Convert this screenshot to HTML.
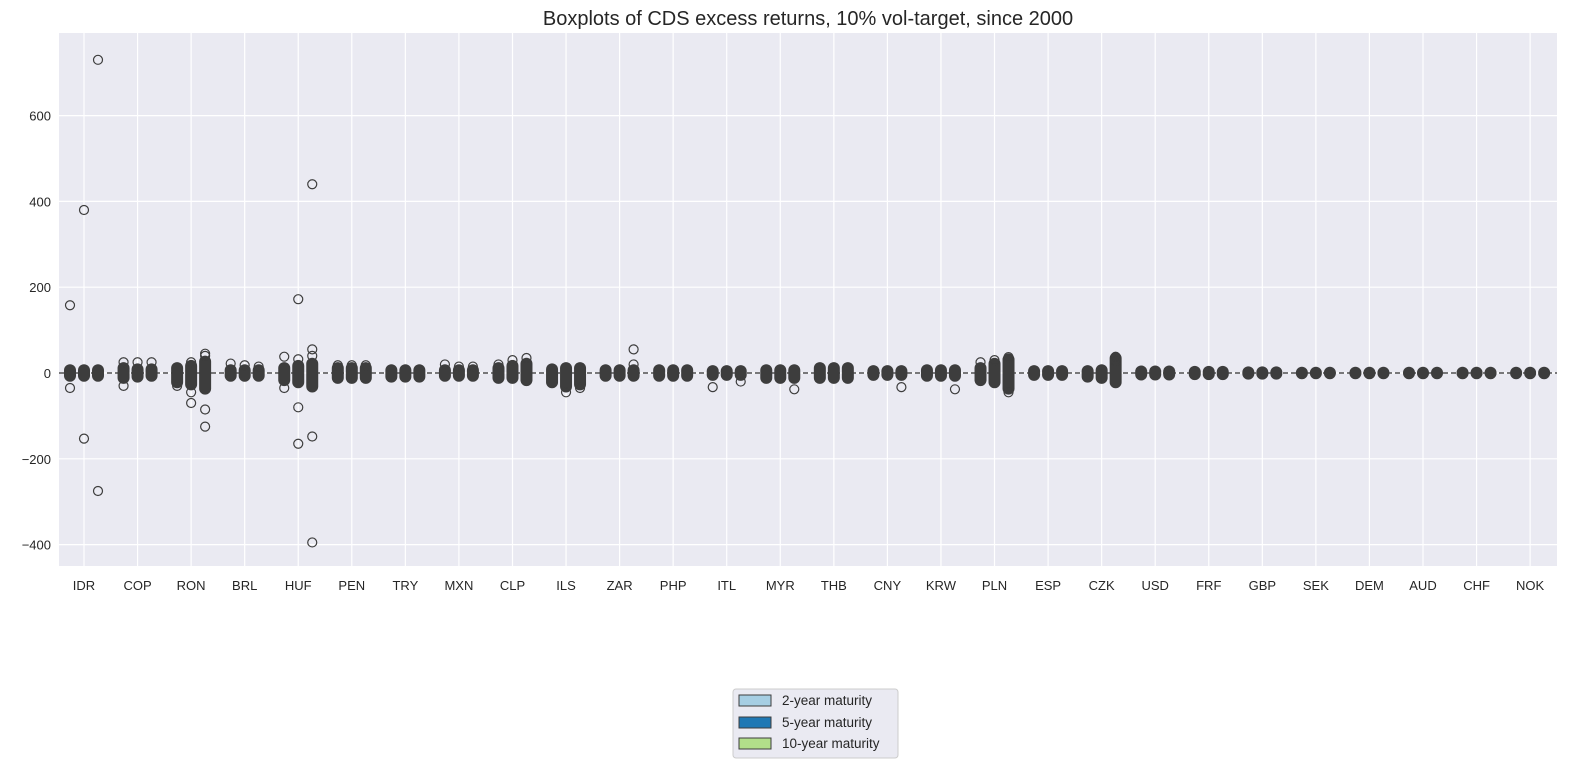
<!DOCTYPE html>
<html><head><meta charset="utf-8"><style>
body{margin:0;background:#fff;font-family:"Liberation Sans",Arial,sans-serif}
svg text{font-family:"Liberation Sans",Arial,sans-serif;fill:#262626}
</style></head><body>
<svg id="c" width="1584" height="768" xmlns="http://www.w3.org/2000/svg">
<text x="808" y="25" font-size="20" text-anchor="middle">Boxplots of CDS excess returns, 10% vol-target, since 2000</text>
<rect x="59" y="33" width="1498" height="533" fill="#eaeaf2"/>
<g id="grid"></g><g id="marks"></g><g id="axes"></g>
<g>
<rect x="733" y="689" width="165" height="69" rx="3" fill="#eaeaf2" stroke="#cccccc"/>
<rect x="739" y="695" width="32" height="11" fill="#a6cee3" stroke="#3d3d3d"/>
<text x="782" y="705" font-size="13.5">2-year maturity</text>
<rect x="739" y="717" width="32" height="11" fill="#1f78b4" stroke="#3d3d3d"/>
<text x="782" y="727" font-size="13.5">5-year maturity</text>
<rect x="739" y="738" width="32" height="11" fill="#b2df8a" stroke="#3d3d3d"/>
<text x="782" y="748" font-size="13.5">10-year maturity</text>
</g>
</svg>
<script>
const categories=["IDR","COP","RON","BRL","HUF","PEN","TRY","MXN","CLP","ILS","ZAR","PHP","ITL","MYR","THB","CNY","KRW","PLN","ESP","CZK","USD","FRF","GBP","SEK","DEM","AUD","CHF","NOK"];
const yTicks=[-400,-200,0,200,400,600];
const lo2=[-10,-15,-25,-10,-20,-15,-12,-10,-15,-25,-10,-10,-8,-15,-15,-8,-10,-20,-8,-12,-7,-6,-5,-4,-4,-4,-4,-4];
const hi2=[10,15,15,10,15,15,10,10,15,12,10,10,8,10,15,8,10,15,8,8,7,6,5,4,4,4,4,4];
const lo5=[-10,-12,-30,-10,-25,-15,-12,-10,-15,-35,-10,-10,-8,-15,-15,-8,-10,-25,-8,-15,-7,-6,-5,-4,-4,-4,-4,-4];
const hi5=[10,12,20,10,20,15,10,10,20,15,10,10,8,10,15,8,10,25,8,10,7,6,5,4,4,4,4,4];
const lo10=[-10,-10,-40,-10,-35,-15,-12,-10,-20,-30,-10,-10,-8,-15,-15,-8,-10,-40,-8,-25,-7,-6,-5,-4,-4,-4,-4,-4];
const hi10=[10,12,30,10,25,15,10,10,25,15,10,10,8,10,15,8,10,35,8,38,7,6,5,4,4,4,4,4];
const out2={0:[158,-35],1:[25,-30],2:[-30],3:[22],4:[38,-35],5:[18],7:[20],8:[20],12:[-33],17:[25]};
const out5={0:[380,-153],1:[25],2:[25,-45,-70],3:[18],4:[172,32,-80,-165],5:[18],7:[15],8:[30],9:[-45],17:[30]};
const out10={0:[730,-275],1:[25],2:[45,40,-85,-125],3:[15],4:[440,55,40,-148,-395],5:[18],7:[15],8:[35],9:[-35],10:[55,20],12:[-20],13:[-38],15:[-33],16:[-38],17:[37,-45],19:[38,28]};
const NS="http://www.w3.org/2000/svg";
const X0=84,STEP=53.56;
const xs=i=>X0+i*STEP;
const ys=v=>373-v*(85.8/200);
function mk(t,a,p){const e=document.createElementNS(NS,t);for(const k in a)e.setAttribute(k,a[k]);p.appendChild(e);return e;}
const grid=document.getElementById('grid'),marks=document.getElementById('marks'),axes=document.getElementById('axes');
yTicks.forEach(v=>{
 const l=mk('line',{x1:59,x2:1557,y1:ys(v),y2:ys(v),stroke:'#fff','stroke-width':1.2},grid);
 
 
 const t=mk('text',{x:51,y:ys(v)+5,'font-size':13,'text-anchor':'end'},axes);
 t.textContent=String(v).replace('-','\u2212');
 
 
});
categories.forEach((c,i)=>{
 const l=mk('line',{x1:xs(i),x2:xs(i),y1:33,y2:566,stroke:'#fff','stroke-width':1.2},grid);
 
 
 const t=mk('text',{x:xs(i),y:590,'font-size':13,'text-anchor':'middle'},axes);
 t.textContent=c;
 
 
});
const zl=mk('line',{x1:59,x2:1557,y1:ys(0),y2:ys(0),stroke:'#000','stroke-width':1,'stroke-dasharray':'5,3'},marks);


const series=[[lo2,hi2,out2,-14,'2y'],[lo5,hi5,out5,0,'5y'],[lo10,hi10,out10,14,'10y']];
categories.forEach((c,i)=>{
 series.forEach(([lo,hi,out,off,nm])=>{
  const cx=xs(i)+off;
  const top=ys(hi[i]),bot=ys(lo[i]);
  const b=mk('rect',{x:cx-6,y:top-4.5,width:12,height:bot-top+9,rx:6,fill:'#3d3d3d'},marks);
  
  
  (out[i]||[]).forEach(v=>{
   const o=mk('circle',{cx:cx,cy:ys(v),r:4.5,fill:'none',stroke:'#3d3d3d','stroke-width':1.2},marks);
   
   
  });
 });
});
</script>
</body></html>
